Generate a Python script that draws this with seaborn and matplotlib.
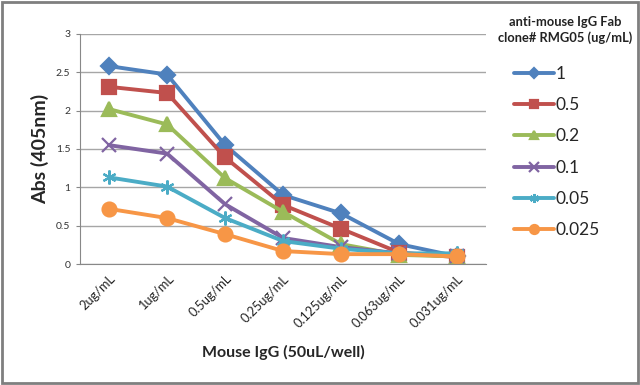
import pandas as pd
import seaborn as sns
import matplotlib.pyplot as plt

# data
doses = ['2ug/mL', '1ug/mL', '0.5ug/mL', '0.25ug/mL', '0.125ug/mL', '0.063ug/mL', '0.031ug/mL']
conc_labels = ['1', '0.5', '0.2', '0.1', '0.05', '0.025']
s_1 = [2.58, 2.47, 1.55, 0.90, 0.66, 0.26, 0.10]
s_05 = [2.31, 2.23, 1.39, 0.77, 0.46, 0.15, 0.09]
s_02 = [2.02, 1.82, 1.12, 0.68, 0.26, 0.12, 0.10]
s_01 = [1.55, 1.44, 0.78, 0.34, 0.22, 0.14, 0.11]
s_005 = [1.13, 1.01, 0.60, 0.30, 0.20, 0.14, 0.14]
s_0025 = [0.72, 0.60, 0.39, 0.17, 0.13, 0.13, 0.10]
series = [s_1, s_05, s_02, s_01, s_005, s_0025]

colors = ['#4F81BD', '#C0504D', '#9BBB59', '#8064A2', '#4BACC6', '#F79646']
markers = ['D', 's', '^', 'x', (6, 2, 0), 'o']
msizes = [8, 9.5, 9.5, 10, 10, 10]

sns.set_style('white')
plt.rcParams['font.family'] = ['Lato', 'DejaVu Sans']

fig = plt.figure(figsize=(6.4, 3.85), dpi=100)
ax = fig.add_axes([0.125, 0.314, 0.635, 0.598])

for lab, vals, c, m, ms in zip(conc_labels, series, colors, markers, msizes):
    d = pd.DataFrame({'pos': range(len(doses)), 'abs': vals})
    sns.lineplot(data=d, x='pos', y='abs', color=c, marker=m, markersize=ms,
                 markeredgecolor=c, markeredgewidth=1.6, linewidth=2.8,
                 label=lab, ax=ax)

ax.set_ylim(0, 3)
ax.set_yticks([0, 0.5, 1, 1.5, 2, 2.5, 3])
ax.set_yticklabels(['0', '0.5', '1', '1.5', '2', '2.5', '3'], fontsize=7.5, color='#333333')
ax.set_xlim(-0.5, len(doses) - 0.5)
ax.set_xticks(range(len(doses)))
ax.set_xticklabels(doses, rotation=45, ha='right', rotation_mode='anchor', fontsize=9.2, color='#222222')
ax.yaxis.grid(True, color='#a6a6a6', linewidth=1)
ax.tick_params(axis='y', length=3, color='#888888', left=True, pad=4)
ax.tick_params(axis='x', length=0, pad=6)
for side in ['top', 'right']:
    ax.spines[side].set_visible(False)
for side in ['left', 'bottom']:
    ax.spines[side].set_color('#888888')

ax.set_xlabel('Mouse IgG (50uL/well)', fontsize=11.5, fontweight='bold', labelpad=11)
ax.set_ylabel('Abs (405nm)', fontsize=14, fontweight='bold', labelpad=5)

handles, labels = ax.get_legend_handles_labels()
ax.get_legend().remove()
fig.text(0.883, 0.922, 'anti-mouse IgG Fab\nclone# RMG05 (ug/mL)', ha='center', va='center',
         fontsize=9.3, fontweight='bold', linespacing=1.35, color='#222222')
leg = fig.legend(handles, labels, loc='upper left', bbox_to_anchor=(0.803, 0.829),
                 frameon=False, fontsize=12.5, labelspacing=0.88, borderpad=0,
                 borderaxespad=0, handlelength=2.3, handletextpad=0.1, markerscale=0.65)

fig.patches.append(plt.Rectangle((0.003, 0.005), 0.994, 0.99, transform=fig.transFigure,
                                 fill=False, edgecolor='#7f7f7f', linewidth=2))
fig.savefig('out.png', dpi=100)
